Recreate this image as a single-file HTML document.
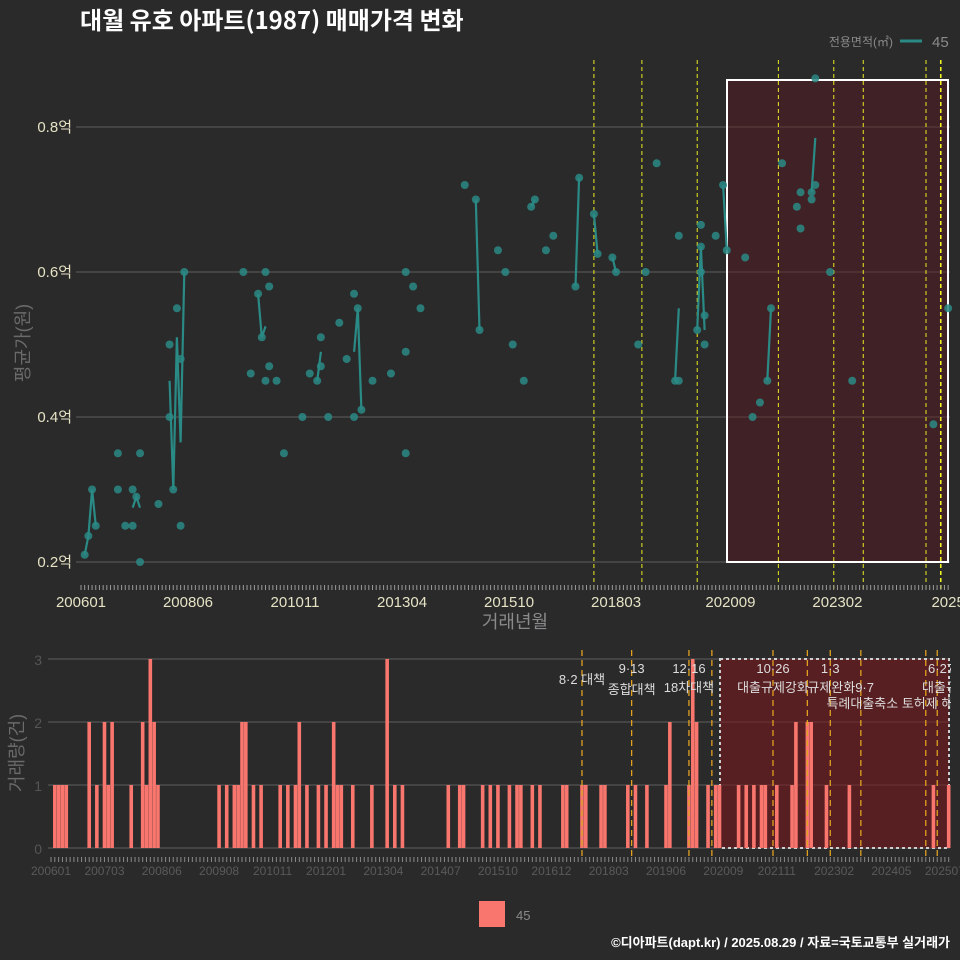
<!DOCTYPE html>
<html><head><meta charset="utf-8">
<style>
html,body{margin:0;padding:0;background:#2a2a2b;}
svg{display:block;font-family:"Liberation Sans","Noto Sans CJK KR",sans-serif;}
</style></head>
<body>
<svg id="chart" width="960" height="960" viewBox="0 0 960 960" xmlns="http://www.w3.org/2000/svg">
<rect x="0" y="0" width="960" height="960" fill="#2a2a2b"/>
<text x="80" y="29" fill="#ffffff" font-size="24" font-weight="bold" style="font-family:'Noto Sans CJK KR','Liberation Sans',sans-serif">대월 유호 아파트(1987) 매매가격 변화</text>
<text x="893" y="46" fill="#8a8a8a" font-size="12" text-anchor="end">전용면적(㎡)</text>
<line x1="900" y1="41" x2="922" y2="41" stroke="#2a8a85" stroke-width="3"/>
<text x="932" y="47" fill="#8a8a8a" font-size="15">45</text>
<g id="topPanel"></g>
<g id="bottomPanel"></g>
<text x="515" y="628" fill="#8a8a8a" font-size="18" text-anchor="middle">거래년월</text>
<text transform="translate(29,343) rotate(-90)" fill="#6a6a6a" font-size="18" text-anchor="middle">평균가(원)</text>
<text transform="translate(23,753) rotate(-90)" fill="#6a6a6a" font-size="18" text-anchor="middle">거래량(건)</text>
<rect x="479" y="901" width="26" height="26" fill="#f8766d"/>
<text x="516" y="920" fill="#8a8a8a" font-size="13">45</text>
<text x="950" y="947" fill="#ffffff" font-size="13" font-weight="bold" text-anchor="end">©디아파트(dapt.kr) / 2025.08.29 / 자료=국토교통부 실거래가</text>
</svg>
<script>
// month index 0 = 2006-01
const tradeMonths = [1,2,3,4,10,10,12,14,14,15,16,16,21,24,24,25,26,27,27,28,44,46,48,49,50,50,51,51,53,55,60,62,64,65,65,67,70,72,74,74,75,76,79,84,88,88,88,90,92,104,107,108,113,115,117,120,122,123,126,128,134,135,139,140,144,145,151,153,156,161,162,162,167,168,168,168,169,169,172,174,175,180,182,184,186,187,190,194,195,195,198,198,199,199,203,209,231,235];
const tradePrices = [0.21,0.236,0.30,0.25,0.35,0.30,0.25,0.30,0.25,0.29,0.35,0.20,0.28,0.50,0.40,0.30,0.55,0.25,0.48,0.60,0.60,0.46,0.57,0.51,0.60,0.45,0.58,0.47,0.45,0.35,0.40,0.46,0.45,0.51,0.47,0.40,0.53,0.48,0.57,0.40,0.55,0.41,0.45,0.46,0.60,0.49,0.35,0.58,0.55,0.72,0.70,0.52,0.63,0.60,0.50,0.45,0.69,0.70,0.63,0.65,0.58,0.73,0.68,0.625,0.62,0.60,0.50,0.60,0.75,0.45,0.45,0.65,0.52,0.665,0.635,0.60,0.54,0.50,0.65,0.72,0.63,0.62,0.40,0.42,0.45,0.55,0.75,0.69,0.71,0.66,0.71,0.70,0.72,0.867,0.60,0.45,0.39,0.55];
const lineMonths = [1,2,3,4,null,14,15,16,null,24,25,26,27,28,null,48,49,50,null,64,65,null,74,75,76,null,107,108,null,122,123,null,134,135,null,139,140,null,144,145,null,161,162,null,167,168,169,null,174,175,null,186,187,null,198,199];
const lineValues = [0.21,0.236,0.30,0.25,null,0.275,0.29,0.275,null,0.45,0.30,0.51,0.365,0.60,null,0.57,0.51,0.525,null,0.45,0.49,null,0.49,0.55,0.41,null,0.70,0.52,null,0.69,0.70,null,0.58,0.73,null,0.68,0.625,null,0.62,0.60,null,0.45,0.55,null,0.52,0.635,0.52,null,0.72,0.63,null,0.45,0.55,null,0.71,0.785];
const yTicks = [0.2,0.4,0.6,0.8];
const yTickLabels = ["0.2억","0.4억","0.6억","0.8억"];
const topXTicks = [0,29,58,87,116,145,176,205,235];
const topXLabels = ["200601","200806","201011","201304","201510","201803","202009","202302","2025"];
const topPolicyMonths = [139,152,167,189,204,212,229,233];
const volMonths = [1,2,3,4,10,12,14,15,16,21,24,25,26,27,28,44,46,48,49,50,51,53,55,60,62,64,65,67,70,72,74,75,76,79,84,88,90,92,104,107,108,113,115,117,120,122,123,126,128,134,135,139,140,144,145,151,153,156,161,162,167,168,169,172,174,175,180,182,184,186,187,190,194,195,198,199,203,209,231,235];
const volCounts = [1,1,1,1,2,1,2,1,2,1,2,1,3,2,1,1,1,1,1,2,2,1,1,1,1,1,2,1,1,1,2,1,1,1,1,3,1,1,1,1,1,1,1,1,1,1,1,1,1,1,1,1,1,1,1,1,1,1,1,2,1,3,2,1,1,1,1,1,1,1,1,1,1,2,2,2,1,1,1,1];
const volTicks = [0,1,2,3];
const botXTicks = [0,14,29,44,58,72,87,102,117,131,146,161,176,190,205,220,234];
const botXLabels = ["200601","200703","200806","200908","201011","201201","201304","201407","201510","201612","201803","201906","202009","202111","202302","202405","202507"];
const botPolicyMonths = [139,152,167,173,189,198,204,212,229,232];
const policyNotes = [
 {m:139,t:"8·2 대책",a:"middle",y:684},
 {m:152,t:"9·13",a:"middle",y:673},{m:152,t:"종합대책",a:"middle",y:694},
 {m:167,t:"12·16",a:"middle",y:673},{m:167,t:"18차대책",a:"middle",y:692},
 {m:189,t:"10·26",a:"middle",y:673},{m:189,t:"대출규제강화",a:"middle",y:692},
 {m:204,t:"1·3",a:"middle",y:673},{m:198,t:"규제완화9·7",a:"start",y:692},
 {m:203,t:"특례대출축소 토허제 해제",a:"start",y:708},
 {m:233,t:"6·27",a:"middle",y:673},{m:228,t:"대출규",a:"start",y:692}
];
const NS="http://www.w3.org/2000/svg";
function mk(p,tag,at){const e=document.createElementNS(NS,tag);for(const k in at)e.setAttribute(k,at[k]);p.appendChild(e);return e;}
const tx=m=>81+m*3.69, ty=v=>562-(v-0.2)*725;
const bx=m=>51+m*3.82, by=c=>848-c*63;
const topG=document.getElementById('topPanel'), botG=document.getElementById('bottomPanel');
yTicks.forEach((v,i)=>{
 const l=mk(topG,'line',{x1:76,x2:950,y1:ty(v),y2:ty(v),stroke:'#5e5e5e','stroke-width':1});
 
 
 const t=mk(topG,'text',{x:72,y:ty(v)+5,fill:'#e6e2c4','font-size':15,'text-anchor':'end'});t.textContent=yTickLabels[i];
 
 
});
const sh=mk(topG,'rect',{x:727,y:80,width:221,height:482,fill:'rgba(95,25,32,0.42)',stroke:'#ffffff','stroke-width':2});


topPolicyMonths.forEach((m,i)=>{
 const l=mk(topG,'line',{x1:tx(m),x2:tx(m),y1:60,y2:590,stroke:i==7?'#f0f020':'#d8d820','stroke-width':i==7?1.6:1.1,'stroke-dasharray':'4,3'});
 
 
});
for(let m=0;m<=235;m++){const l=mk(topG,'line',{x1:tx(m),x2:tx(m),y1:585,y2:590,stroke:'#9a9a9a','stroke-width':1});
 
 }
topXTicks.forEach((m,i)=>{const t=mk(topG,'text',{x:tx(m),y:607,fill:'#e6e2c4','font-size':15,'text-anchor':'middle'});t.textContent=topXLabels[i];
 
 });
let d='',pen=false;
lineMonths.forEach((m,i)=>{if(m===null){pen=false;return;}d+=(pen?'L':'M')+tx(m).toFixed(1)+','+ty(lineValues[i]).toFixed(1);pen=true;});
const pl=mk(topG,'path',{d:d,fill:'none',stroke:'#2a8a85','stroke-width':2.2});


tradeMonths.forEach((m,i)=>{const c=mk(topG,'circle',{cx:tx(m),cy:ty(tradePrices[i]),r:4,fill:'#2a8a85','fill-opacity':0.85});
 
 });
volTicks.forEach(v=>{const l=mk(botG,'line',{x1:48,x2:950,y1:by(v),y2:by(v),stroke:'#5e5e5e','stroke-width':1});
 
 
 const t=mk(botG,'text',{x:42,y:by(v)+6,fill:'#555','font-size':14,'text-anchor':'end'});t.textContent=v;
 
 });
const sh2=mk(botG,'rect',{x:720,y:659,width:229,height:189,fill:'rgba(120,25,28,0.6)',stroke:'#cfcfcf','stroke-width':2,'stroke-dasharray':'3,3'});


volMonths.forEach((m,i)=>{const r=mk(botG,'rect',{x:bx(m)-1.8,y:by(volCounts[i]),width:3.6,height:volCounts[i]*63,fill:'#f8766d'});
 
 });
botPolicyMonths.forEach(m=>{const l=mk(botG,'line',{x1:bx(m),x2:bx(m),y1:650,y2:858,stroke:'#e0a020','stroke-width':1.3,'stroke-dasharray':'6,4'});
 
 });
for(let m=0;m<=235;m++){const l=mk(botG,'line',{x1:bx(m),x2:bx(m),y1:857,y2:862,stroke:'#8a8a8a','stroke-width':1});
 
 }
botXTicks.forEach((m,i)=>{const t=mk(botG,'text',{x:bx(m),y:875,fill:'#5a5a5a','font-size':12,'text-anchor':'middle'});t.textContent=botXLabels[i];
 
 });
const clip=mk(botG,'clipPath',{id:'cp'});mk(clip,'rect',{x:0,y:640,width:951,height:100});
const ng=mk(botG,'g',{'clip-path':'url(#cp)'});
policyNotes.forEach(n=>{const t=mk(ng,'text',{x:bx(n.m),y:n.y,fill:'#dddddd','font-size':13,'text-anchor':n.a});
 t.textContent=n.t;
 
 });
</script>
</body></html>
